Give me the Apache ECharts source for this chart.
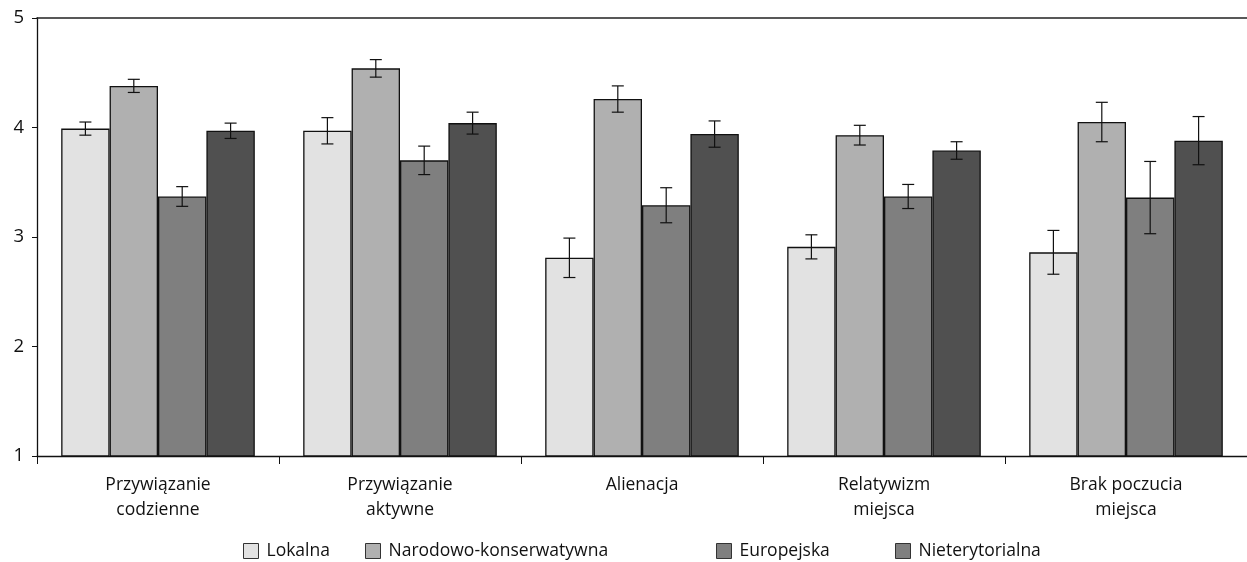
<!DOCTYPE html>
<html><head><meta charset="utf-8">
<script src="https://cdn.jsdelivr.net/npm/echarts@6/dist/echarts.min.js"></script>
<style>html,body{margin:0;padding:0;background:#fff}#c{width:1247px;height:562px}</style>
</head><body><div id="c"></div>
<script>
const categories = ['Przywiązanie\ncodzienne', 'Przywiązanie\naktywne', 'Alienacja', 'Relatywizm\nmiejsca', 'Brak poczucia\nmiejsca'];
const seriesNames = ['Lokalna', 'Narodowo-konserwatywna', 'Europejska', 'Nieterytorialna'];
const lokalna = [3.99, 3.97, 2.81, 2.91, 2.86];
const narodowo = [4.38, 4.54, 4.26, 3.93, 4.05];
const europejska = [3.37, 3.70, 3.29, 3.37, 3.36];
const nieterytorialna = [3.97, 4.04, 3.94, 3.79, 3.88];
const errLokalna = [0.06, 0.12, 0.18, 0.11, 0.20];
const errNarodowo = [0.06, 0.08, 0.12, 0.09, 0.18];
const errEuropejska = [0.09, 0.13, 0.16, 0.11, 0.33];
const errNieterytorialna = [0.07, 0.10, 0.12, 0.08, 0.22];
const yTicks = [1, 2, 3, 4, 5];

const values = [lokalna, narodowo, europejska, nieterytorialna];
const errors = [errLokalna, errNarodowo, errEuropejska, errNieterytorialna];
const colors = ['#e2e2e2', '#b0b0b0', '#7f7f7f', '#505050'];
const legendColors = ['#e2e2e2', '#b0b0b0', '#7f7f7f', '#7f7f7f'];
const legendLefts = [243, 365, 716, 895];
const FONT = 'Open Sans';

const chart = echarts.init(document.getElementById('c'), null, {renderer: 'canvas'});

const series = [];
values.forEach((vals, i) => {
  series.push({
    name: seriesNames[i], type: 'bar', data: vals,
    barGap: '0%', barCategoryGap: '20%',
    itemStyle: {color: colors[i], borderColor: '#111', borderWidth: 1.3},
    emphasis: {disabled: true}
  });
});
values.forEach((vals, i) => {
  series.push({
    type: 'custom', name: seriesNames[i] + ' err', silent: true, z: 5,
    data: vals.map((v, k) => [k, v - errors[i][k], v + errors[i][k]]),
    renderItem: function (params, api) {
      const band = api.size([1, 0])[0];
      const bw = band * 0.8 / 4;
      const c = api.coord([api.value(0), api.value(1)]);
      const top = api.coord([api.value(0), api.value(2)]);
      const x = c[0] + (i - 1.5) * bw;
      const cap = 6;
      const st = {stroke: '#111', lineWidth: 1.2};
      return {type: 'group', children: [
        {type: 'line', shape: {x1: x, y1: top[1], x2: x, y2: c[1]}, style: st},
        {type: 'line', shape: {x1: x - cap, y1: top[1], x2: x + cap, y2: top[1]}, style: st},
        {type: 'line', shape: {x1: x - cap, y1: c[1], x2: x + cap, y2: c[1]}, style: st}
      ]};
    }
  });
});

const legends = seriesNames.map((n, i) => ({
  top: 542, left: legendLefts[i], itemWidth: 15, itemHeight: 15, padding: 0,
  icon: 'rect', selectedMode: false,
  textStyle: {fontFamily: FONT, fontSize: 17.5, color: '#111', padding: [0, 0, 0, 3]},
  data: [{name: n, itemStyle: {color: legendColors[i], borderColor: '#333', borderWidth: 1}}]
}));

chart.setOption({
  animation: false,
  grid: {left: 37, top: 18, width: 1219, height: 438},
  legend: legends,
  xAxis: [{
    type: 'category', data: categories, position: 'bottom',
    axisLine: {lineStyle: {color: '#111', width: 1.3}},
    axisTick: {show: true, length: 8, lineStyle: {color: '#111'}},
    axisLabel: {fontFamily: FONT, fontSize: 17.5, color: '#111', margin: 17, lineHeight: 25, interval: 0}
  }, {
    type: 'category', data: categories, position: 'top',
    axisLine: {show: true, lineStyle: {color: '#222', width: 1.5}},
    axisTick: {show: false}, axisLabel: {show: false}
  }],
  yAxis: {
    type: 'value', min: 1, max: 5, interval: 1,
    axisLine: {show: true, lineStyle: {color: '#111', width: 1.3}},
    axisTick: {show: true, length: 5, lineStyle: {color: '#111'}},
    splitLine: {show: false},
    axisLabel: {fontFamily: FONT, fontSize: 18.5, color: '#111', margin: 13,
      formatter: v => yTicks.includes(v) ? String(v) : ''}
  },
  series: series
});
</script>
</body></html>
